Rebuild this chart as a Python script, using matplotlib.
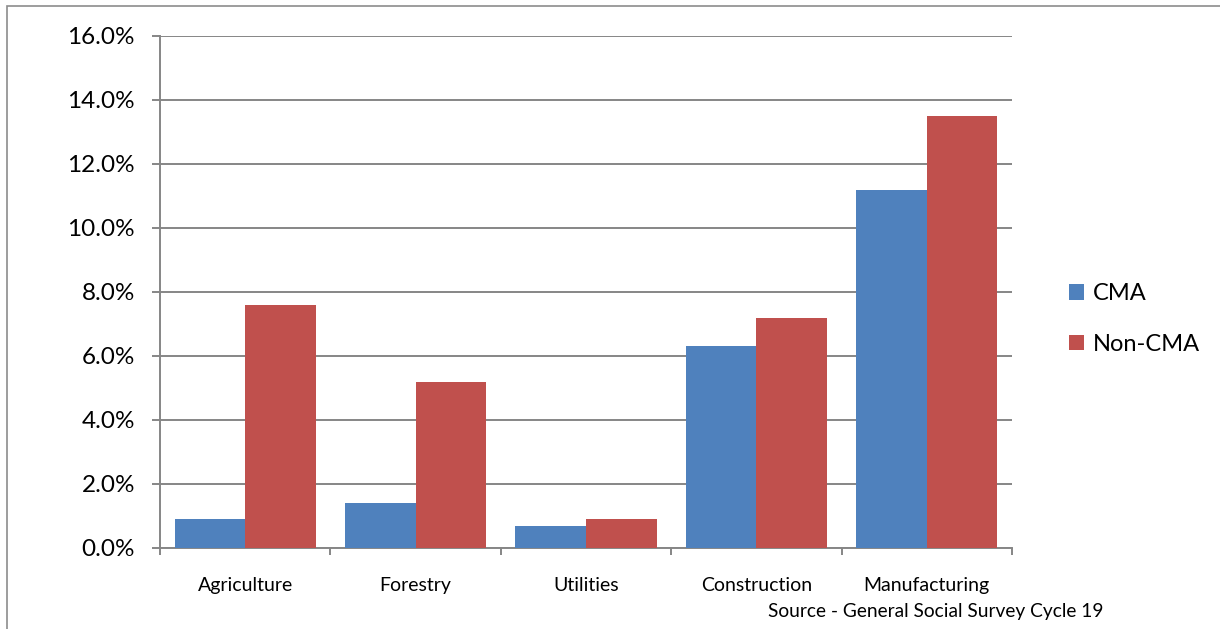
import matplotlib
matplotlib.use("Agg")
import matplotlib.pyplot as plt
from matplotlib.patches import Rectangle
from matplotlib.ticker import FuncFormatter, FixedLocator
import numpy as np

plt.rcParams['font.family'] = ['Lato', 'DejaVu Sans']

categories = ["Agriculture", "Forestry", "Utilities", "Construction", "Manufacturing"]
cma = [0.9, 1.4, 0.7, 6.3, 11.2]
non_cma = [7.6, 5.2, 0.9, 7.2, 13.5]
series_names = ["CMA", "Non-CMA"]
y_ticks = [0, 2, 4, 6, 8, 10, 12, 14, 16]
source_note = "Source - General Social Survey Cycle 19"

blue = "#4F81BD"
red = "#C0504D"
grid_grey = "#868686"

fig = plt.figure(figsize=(12.2, 6.29), dpi=100)
ax = fig.add_axes([160 / 1220, 1 - 548 / 629, (1012 - 160) / 1220, (548 - 36) / 629])

# outer chart frame
fig.patches.append(Rectangle((7 / 1220, -0.1), 1.2, 1 - 6 / 629 + 0.1,
                             transform=fig.transFigure, fill=False,
                             edgecolor="#8c8c8c", linewidth=1.2))

x = np.arange(len(categories))
w = 0.414
ax.bar(x - w / 2, cma, width=w, color=blue, label=series_names[0], zorder=3)
ax.bar(x + w / 2, non_cma, width=w, color=red, label=series_names[1], zorder=3)

ax.set_xlim(-0.5, len(categories) - 0.5)
ax.set_ylim(0, 16)
ax.yaxis.set_major_locator(FixedLocator(y_ticks))
ax.yaxis.set_major_formatter(FuncFormatter(lambda v, _: f"{v:.1f}%"))
ax.grid(axis="y", color=grid_grey, linewidth=1.4, zorder=0)

ax.set_xticks(x)
ax.set_xticklabels(categories, fontsize=14)
ax.tick_params(axis="x", which="major", length=0, pad=21)
ax.set_xticks(np.arange(-0.5, len(categories)), minor=True)
ax.tick_params(axis="x", which="minor", length=5, width=1.4, color=grid_grey, direction="out")
ax.tick_params(axis="y", length=6, width=1.4, color=grid_grey, labelsize=17.5, pad=12)

for side in ["top", "right"]:
    ax.spines[side].set_visible(False)
for side in ["left", "bottom"]:
    ax.spines[side].set_color(grid_grey)
    ax.spines[side].set_linewidth(1.4)

leg = fig.legend(loc="center left", bbox_to_anchor=(1069 / 1220, 1 - 319 / 629),
                 frameon=False, fontsize=17, handlelength=0.65, handleheight=0.65,
                 handletextpad=0.35, labelspacing=1.25, borderaxespad=0, borderpad=0)

fig.text(1104 / 1220, 1 - 611 / 629, source_note, ha="right", va="center", fontsize=13.8)

fig.savefig("out.png", dpi=100)
